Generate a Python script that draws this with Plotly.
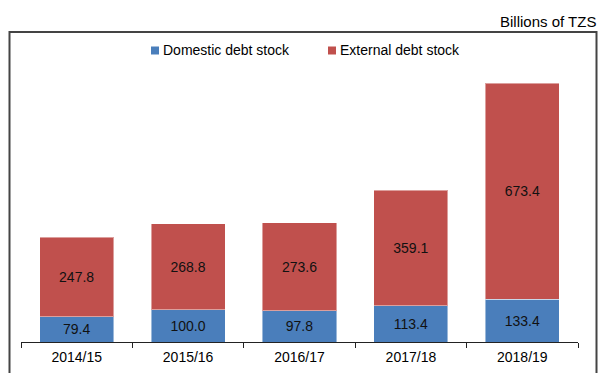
import plotly.graph_objects as go

# Government debt stock by fiscal year (billions of TZS)
years = ["2014/15", "2015/16", "2016/17", "2017/18", "2018/19"]
domestic = [79.4, 100.0, 97.8, 113.4, 133.4]
external = [247.8, 268.8, 273.6, 359.1, 673.4]

series_names = ["Domestic debt stock", "External debt stock"]
series_colors = ["#4A7EBB", "#C0504D"]
unit_label = "Billions of TZS"

W, H = 599, 373
M_L, M_R, M_T, M_B = 21, 21, 54, 31
PLOT_W = W - M_L - M_R
PLOT_H = H - M_T - M_B
FONT = "Liberation Sans, Arial, sans-serif"


def px_x(x):
    """Pixel x -> paper fraction."""
    return (x - M_L) / PLOT_W


def px_y(y):
    """Pixel y (from top) -> paper fraction."""
    return (H - M_B - y) / PLOT_H


fig = go.Figure()
for name, vals, color in zip(series_names, [domestic, external], series_colors):
    fig.add_trace(go.Bar(
        x=years,
        y=vals,
        name=name,
        marker=dict(color=color, line=dict(color="rgba(255,255,255,0.45)", width=1)),
        text=[f"{v:.1f}" for v in vals],
        textposition="inside",
        insidetextanchor="middle",
        textfont=dict(family=FONT, size=14, color="#111111"),
        showlegend=False,
    ))

# outer frame
shapes = [dict(
    type="rect", xref="paper", yref="paper",
    x0=px_x(9.5), x1=px_x(596.5), y0=px_y(385), y1=px_y(32),
    line=dict(color="#444444", width=2), fillcolor="rgba(0,0,0,0)",
)]

annotations = [dict(
    text=unit_label, xref="paper", yref="paper",
    x=px_x(598), y=px_y(21), xanchor="right", yanchor="middle",
    showarrow=False, font=dict(family=FONT, size=15, color="#000000"),
)]

# legend entries: small square + label
legend_x = [151, 328]
for name, color, lx in zip(series_names, series_colors, legend_x):
    shapes.append(dict(
        type="rect", xref="paper", yref="paper",
        x0=px_x(lx), x1=px_x(lx + 8), y0=px_y(54.5), y1=px_y(46.5),
        line=dict(width=0), fillcolor=color,
    ))
    annotations.append(dict(
        text=name, xref="paper", yref="paper",
        x=px_x(lx + 10), y=px_y(50), xanchor="left", yanchor="middle",
        showarrow=False, font=dict(family=FONT, size=14, color="#000000"),
    ))

fig.update_layout(
    barmode="stack",
    bargap=0.335,
    width=W, height=H,
    margin=dict(l=M_L, r=M_R, t=M_T, b=M_B, pad=0),
    paper_bgcolor="white",
    plot_bgcolor="white",
    shapes=shapes,
    annotations=annotations,
    uniformtext=dict(minsize=14, mode="show"),
    xaxis=dict(
        automargin=False,
        showline=True, linecolor="#222222", linewidth=1,
        ticks="outside", tickson="boundaries", ticklen=5,
        tickcolor="#222222", tickwidth=1,
        ticklabelstandoff=2,
        tickfont=dict(family=FONT, size=14, color="#000000"),
        showgrid=False,
    ),
    yaxis=dict(
        automargin=False,
        range=[0, 898], visible=False, showgrid=False, zeroline=False,
    ),
)

fig.write_html("out.html")
